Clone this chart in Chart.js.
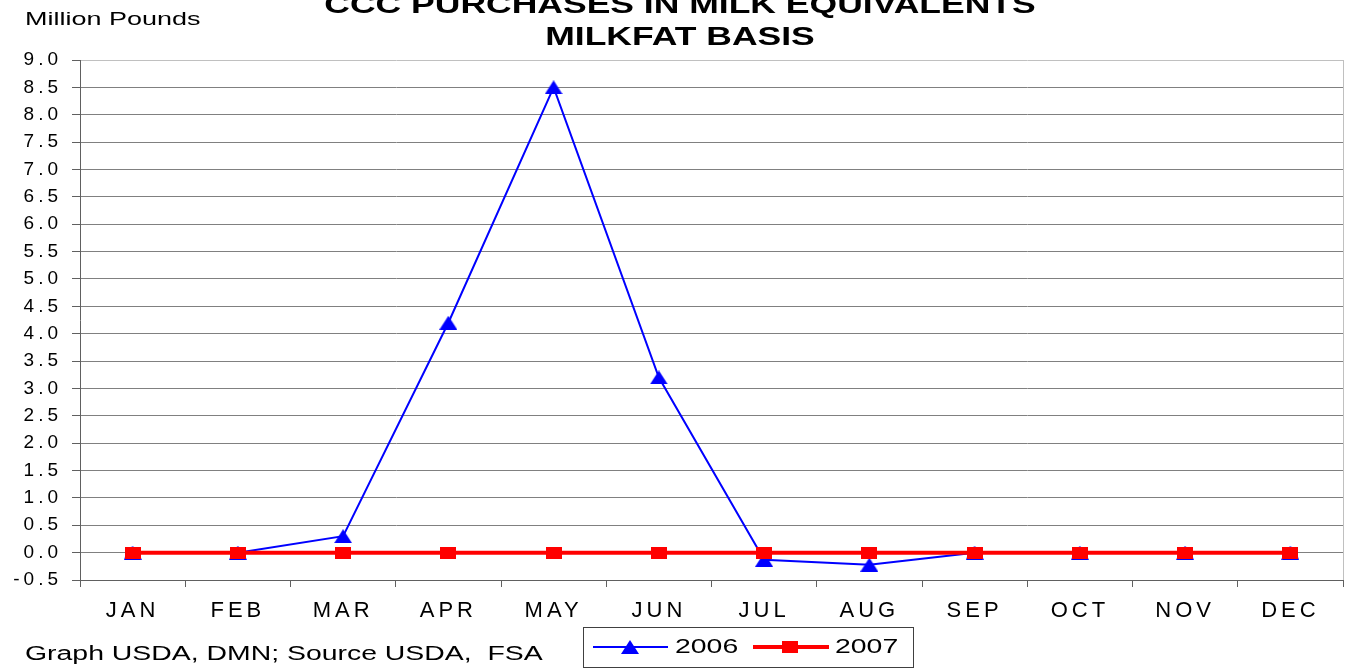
<!DOCTYPE html>
<html>
<head>
<meta charset="utf-8">
<title>CCC Purchases in Milk Equivalents</title>
<script src="https://cdn.jsdelivr.net/npm/chart.js@4.4.1/dist/chart.umd.min.js"></script>
<style>
  body { margin: 0; background: #fff; }
  canvas { display: block; }
</style>
</head>
<body>
<canvas id="milkfat" width="1345" height="669"></canvas>
<script>
var months = ['JAN', 'FEB', 'MAR', 'APR', 'MAY', 'JUN', 'JUL', 'AUG', 'SEP', 'OCT', 'NOV', 'DEC'];
var purchases2006 = [0, 0, 0.3, 4.2, 8.5, 3.2, -0.13, -0.22, 0, 0, 0, 0];
var purchases2007 = [0, 0, 0, 0, 0, 0, 0, 0, 0, 0, 0, 0];
var seriesNames = ['2006', '2007'];
var titleLines = ['CCC PURCHASES IN MILK EQUIVALENTS', 'MILKFAT BASIS'];
var unitLabel = 'Million Pounds';
var sourceNote = 'Graph USDA, DMN; Source USDA,  FSA';

var FONT = '"Liberation Sans", Arial, sans-serif';
var STRETCH = 1.42;

// the original picture is stretched sideways, so the markers are too
function makeMarker(kind, color) {
  var c = document.createElement('canvas');
  if (kind === 'tri') {
    c.width = 18; c.height = 14;
  } else {
    c.width = 16; c.height = 12;
  }
  var g = c.getContext('2d');
  g.fillStyle = color;
  if (kind === 'tri') {
    g.beginPath();
    g.moveTo(0, 14); g.lineTo(9, 0); g.lineTo(18, 14);
    g.closePath();
    g.fill();
  } else {
    g.fillRect(0, 0, 16, 12);
  }
  return c;
}
var triMarker = makeMarker('tri', '#0000ff');
var sqMarker = makeMarker('sq', '#ff0000');

function wideText(ctx, text, x, y, align) {
  ctx.save();
  ctx.translate(x, y);
  ctx.scale(STRETCH, 1);
  ctx.textAlign = align;
  ctx.fillText(text, 0, 0);
  ctx.restore();
}

var spacing = {
  id: 'spacing',
  beforeLayout: function (chart) { chart.ctx.letterSpacing = '4px'; },
  beforeDraw: function (chart) { chart.ctx.letterSpacing = '4px'; }
};

var extras = {
  id: 'extras',
  afterDraw: function (chart) {
    var ctx = chart.ctx;
    var a = chart.chartArea;
    ctx.save();
    ctx.letterSpacing = '0px';

    // light right border of the plot
    ctx.strokeStyle = '#c0c0c0';
    ctx.lineWidth = 1;
    ctx.beginPath();
    ctx.moveTo(a.right + 0.5, a.top);
    ctx.lineTo(a.right + 0.5, a.bottom);
    ctx.stroke();

    ctx.fillStyle = '#000';
    ctx.textBaseline = 'alphabetic';
    ctx.font = 'bold 25px ' + FONT;
    wideText(ctx, titleLines[0], 680, 13, 'center');
    wideText(ctx, titleLines[1], 680, 45, 'center');

    ctx.font = '19px ' + FONT;
    wideText(ctx, unitLabel, 25, 25, 'left');

    ctx.font = '20px ' + FONT;
    wideText(ctx, sourceNote, 25, 660, 'left');

    // legend box
    ctx.strokeStyle = '#404040';
    ctx.strokeRect(583.5, 627.5, 330, 40);
    var ds = chart.data.datasets;
    ctx.strokeStyle = ds[0].borderColor;
    ctx.lineWidth = ds[0].borderWidth;
    ctx.beginPath(); ctx.moveTo(593, 647); ctx.lineTo(668, 647); ctx.stroke();
    ctx.drawImage(triMarker, 630 - 9, 647 - 7);
    ctx.strokeStyle = ds[1].borderColor;
    ctx.lineWidth = ds[1].borderWidth;
    ctx.beginPath(); ctx.moveTo(753, 647); ctx.lineTo(829, 647); ctx.stroke();
    ctx.drawImage(sqMarker, 790 - 8, 647 - 6);
    ctx.fillStyle = '#000';
    ctx.font = '20px ' + FONT;
    wideText(ctx, ds[0].label, 675, 653, 'left');
    wideText(ctx, ds[1].label, 835, 653, 'left');
    ctx.restore();
  }
};

var ctx = document.getElementById('milkfat').getContext('2d');
var chart = new Chart(ctx, {
  type: 'line',
  data: {
    labels: months,
    datasets: [{
      label: seriesNames[0],
      data: purchases2006,
      borderColor: '#0000ff',
      backgroundColor: '#0000ff',
      borderWidth: 2,
      pointStyle: triMarker,
      pointRadius: 8,
      tension: 0,
      order: 2
    }, {
      label: seriesNames[1],
      data: purchases2007,
      borderColor: '#ff0000',
      backgroundColor: '#ff0000',
      borderWidth: 4,
      pointStyle: sqMarker,
      pointRadius: 8,
      tension: 0,
      order: 1
    }]
  },
  options: {
    responsive: false,
    animation: false,
    layout: { autoPadding: false, padding: { top: 60, right: 2, left: 0, bottom: 0 } },
    plugins: {
      legend: { display: false },
      title: { display: false },
      tooltip: { enabled: false }
    },
    scales: {
      x: {
        offset: true,
        grid: {
          offset: true,
          drawOnChartArea: false,
          tickLength: 7,
          color: '#606060',
          tickColor: '#606060'
        },
        border: { color: '#606060', width: 1 },
        ticks: {
          color: '#000',
          font: { family: FONT, size: 22 },
          padding: 11,
          maxRotation: 0,
          autoSkip: false
        },
        afterFit: function (scale) {
          scale.height = 89;
          scale.paddingLeft = 0;
          scale.paddingRight = 0;
        }
      },
      y: {
        min: -0.5,
        max: 9,
        grid: {
          tickLength: 8,
          tickColor: '#606060',
          color: function (c) {
            return c.tick && c.tick.value === 9 ? '#c0c0c0' : '#808080';
          }
        },
        border: { color: '#606060', width: 1 },
        ticks: {
          stepSize: 0.5,
          autoSkip: false,
          color: '#000',
          font: { family: FONT, size: 19 },
          padding: 10,
          callback: function (v) { return Number(v).toFixed(1); }
        },
        afterFit: function (scale) {
          scale.width = 80;
          scale.paddingTop = 0;
          scale.paddingBottom = 0;
        }
      }
    }
  },
  plugins: [spacing, extras]
});
</script>
</body>
</html>
